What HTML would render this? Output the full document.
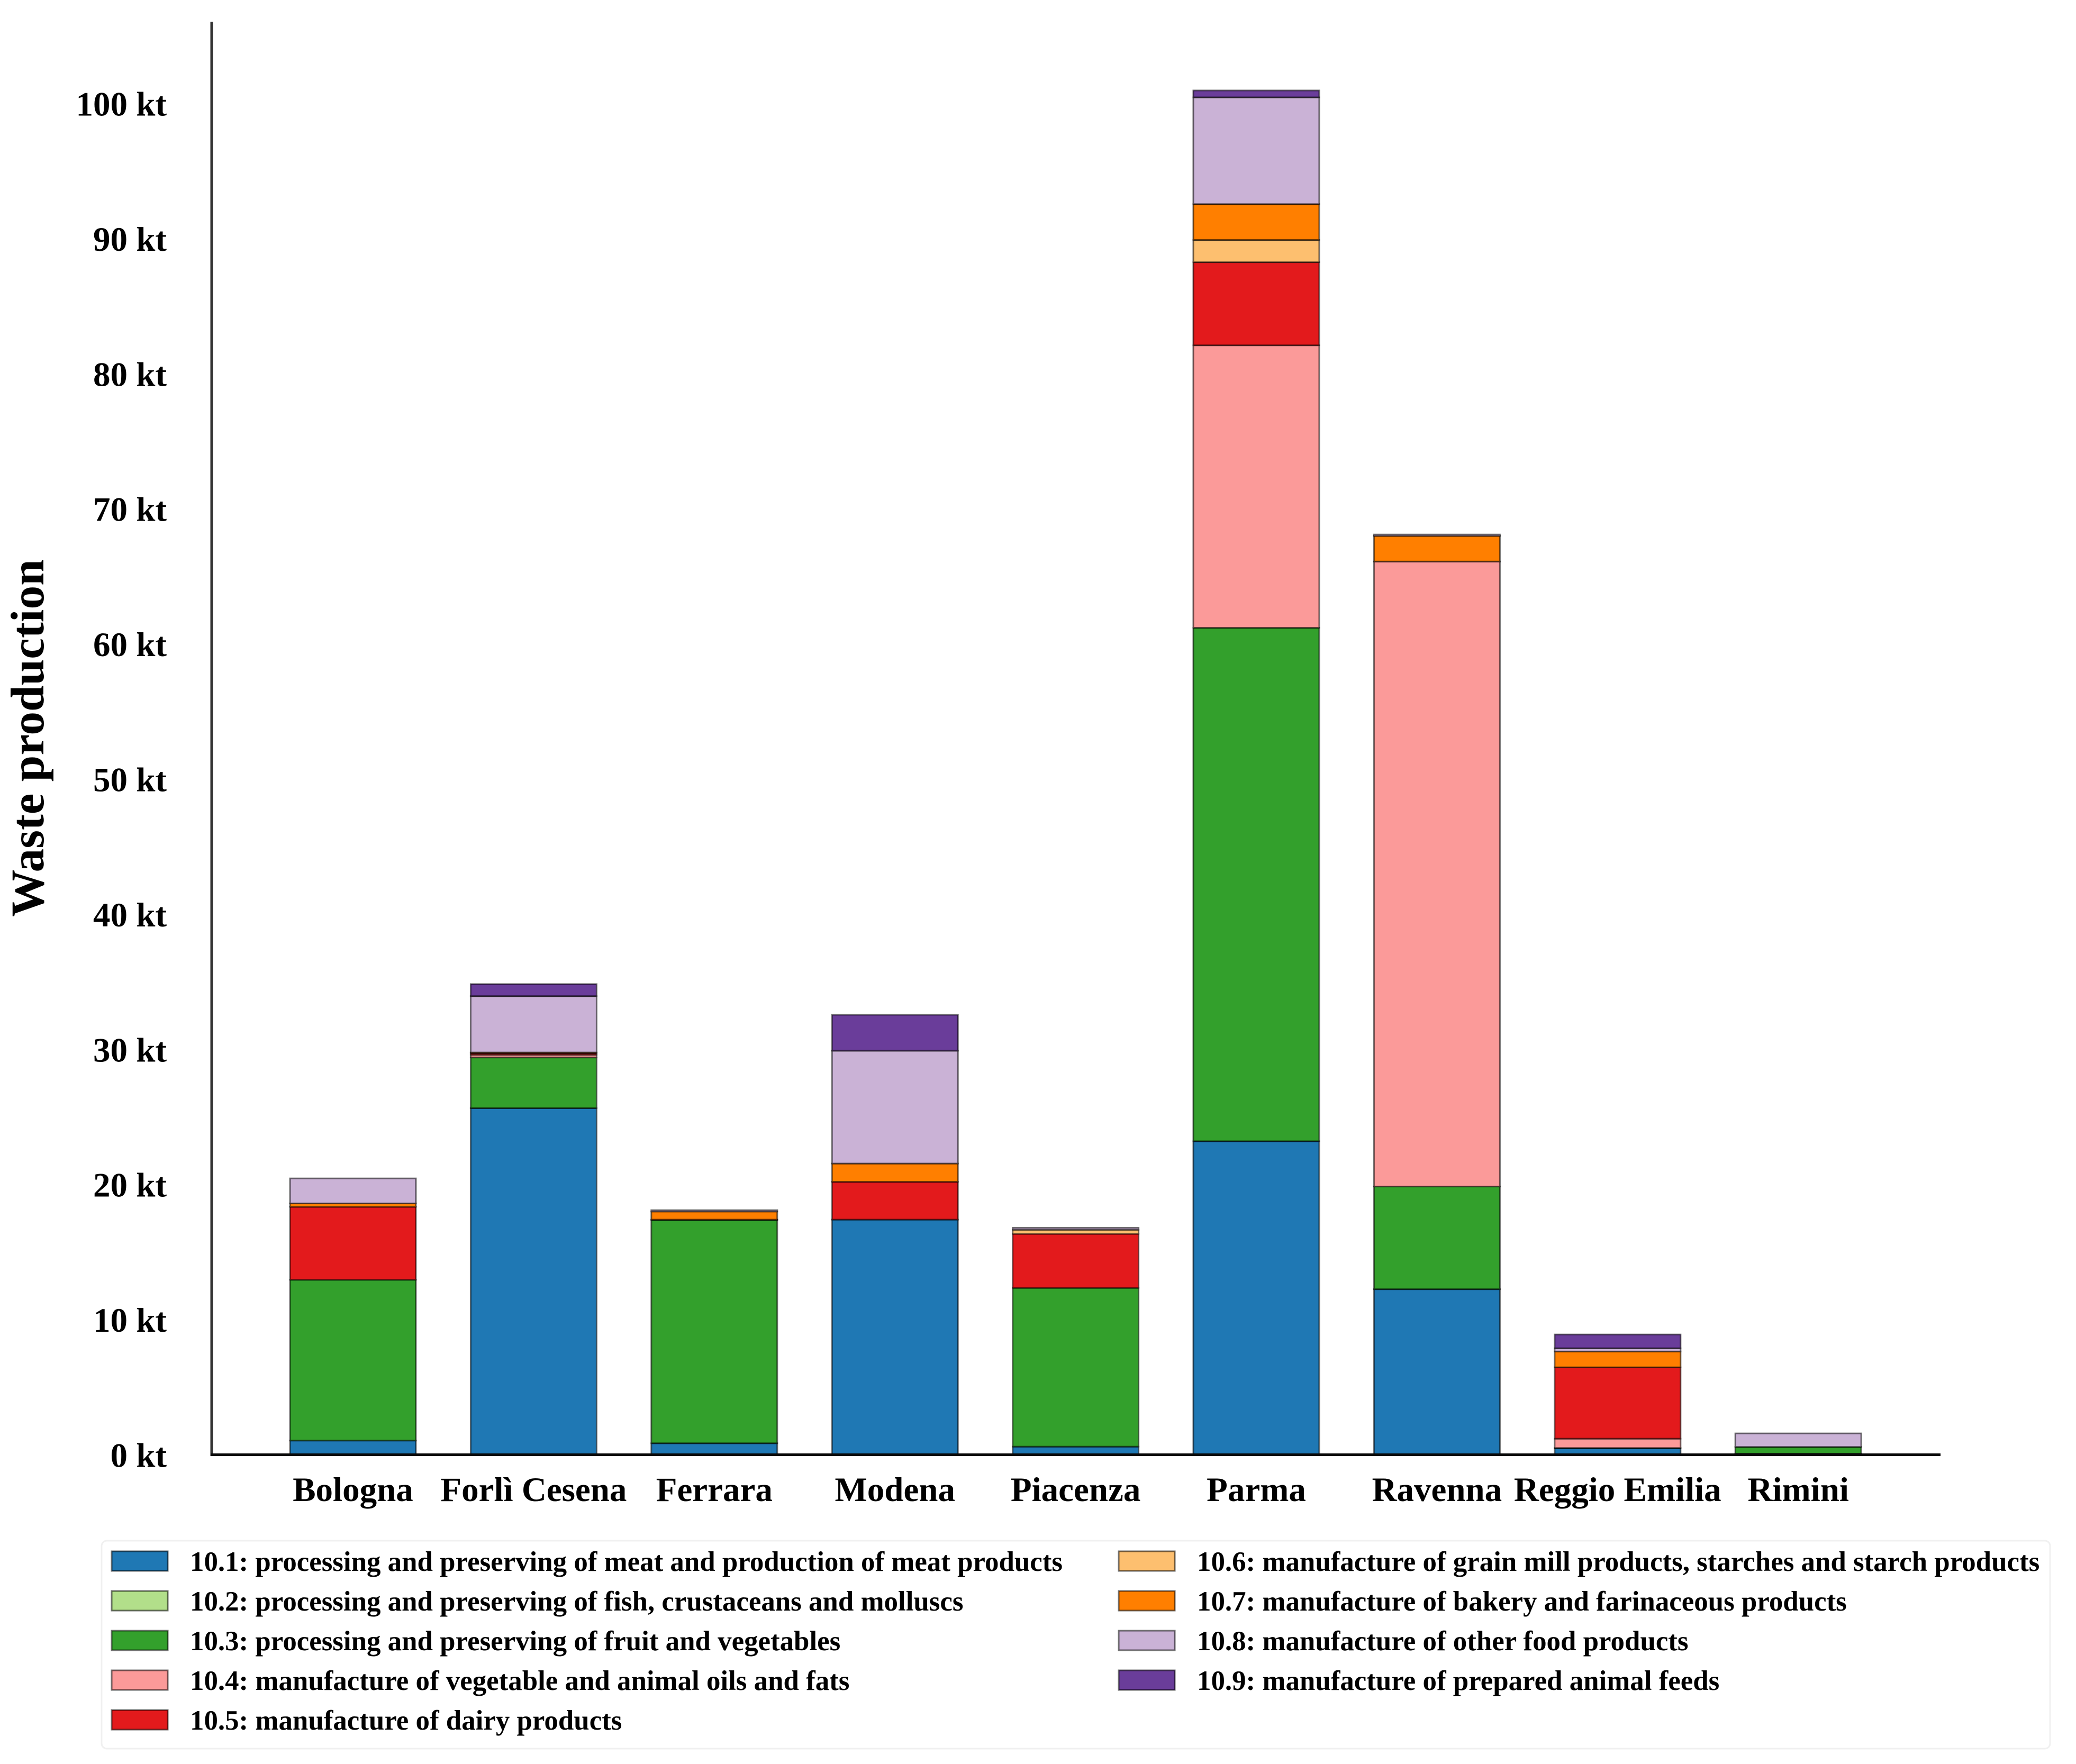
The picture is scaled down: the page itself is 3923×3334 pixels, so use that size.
<!DOCTYPE html>
<html lang="en">
<head>
<meta charset="utf-8">
<title>Waste production by province</title>
<style>
html,body{margin:0;padding:0;background:#fff;width:3923px;height:3334px;overflow:hidden}
svg{display:block;font-family:"Liberation Serif",serif;font-weight:bold}
</style>
</head>
<body>
<svg id="chart" xmlns="http://www.w3.org/2000/svg" width="3923" height="3334" viewBox="0 0 3923 3334">
  <rect x="0" y="0" width="3923" height="3334" fill="#ffffff"/>
  <g id="bars"></g>
  <line x1="400" y1="41" x2="400" y2="2752" stroke="#333" stroke-width="5"/>
  <line x1="398" y1="2749.5" x2="3667" y2="2749.5" stroke="#0a0a0a" stroke-width="5"/>
  <g id="y-ticks"></g>
  <g id="x-ticks"></g>
  <text transform="translate(82,1395) rotate(-90)" text-anchor="middle" font-size="89.3" fill="#000">Waste production</text>
  <rect x="192" y="2912" width="3682" height="393" rx="10" ry="10" fill="#ffffff" stroke="#f0f0f0" stroke-width="3"/>
  <g id="legend"></g>
</svg>
<script>
const categories = ["Bologna","Forlì Cesena","Ferrara","Modena","Piacenza","Parma","Ravenna","Reggio Emilia","Rimini"];
const seriesCodes = ["10.1","10.2","10.3","10.4","10.5","10.6","10.7","10.8","10.9"];
const seriesLabels = [
  "10.1: processing and preserving of meat and production of meat products",
  "10.2: processing and preserving of fish, crustaceans and molluscs",
  "10.3: processing and preserving of fruit and vegetables",
  "10.4: manufacture of vegetable and animal oils and fats",
  "10.5: manufacture of dairy products",
  "10.6: manufacture of grain mill products, starches and starch products",
  "10.7: manufacture of bakery and farinaceous products",
  "10.8: manufacture of other food products",
  "10.9: manufacture of prepared animal feeds"
];
const seriesColors = ["#1f78b4","#b2df8a","#33a02c","#fb9a99","#e31a1c","#fdbf6f","#ff7f00","#cab2d6","#6a3d9a"];
const values101 = [1.05,25.65,0.85,17.4,0.6,23.2,12.25,0.48,0.08];
const values102 = [0,0,0,0,0,0,0,0,0];
const values103 = [11.9,3.75,16.52,0,11.75,38.0,7.6,0.02,0.5];
const values104 = [0,0.2,0,0,0,20.9,46.25,0.69,0];
const values105 = [5.4,0.12,0.03,2.8,4.0,6.15,0,5.28,0];
const values106 = [0,0,0,0,0.3,1.65,0,0,0];
const values107 = [0.25,0.05,0.6,1.35,0,2.65,1.9,1.17,0];
const values108 = [1.85,4.17,0.1,8.35,0.15,7.9,0.1,0.24,1.0];
const values109 = [0,0.89,0,2.66,0,0.51,0,1.02,0];
const yTickValues = [0,10,20,30,40,50,60,70,80,90,100];
const yTickSuffix = " kt";

const allSeries = [values101,values102,values103,values104,values105,values106,values107,values108,values109];
const NS = "http://www.w3.org/2000/svg";
const Y_ZERO = 2749.5, PX_PER_KT = 25.54;
const X_FIRST = 667, X_STEP = 341.4, BAR_WIDTH = 238;
function yScale(v){ return Y_ZERO - v * PX_PER_KT; }
function xScale(i){ return X_FIRST + i * X_STEP; }
function make(tag, attrs){
  const el = document.createElementNS(NS, tag);
  for (const k in attrs) el.setAttribute(k, attrs[k]);
  return el;
}

const barsG = document.getElementById("bars");
categories.forEach(function(cat, c){
  let base = 0;
  allSeries.forEach(function(vals, s){
    const v = vals[c];
    if (!v) return;
    const top = base + v;
    const rect = make("rect", {
      x: xScale(c) - BAR_WIDTH / 2,
      y: yScale(top),
      width: BAR_WIDTH,
      height: yScale(base) - yScale(top),
      fill: seriesColors[s],
      stroke: "#000",
      "stroke-opacity": 0.55,
      "stroke-width": 3
    });
    
    
    barsG.appendChild(rect);
    base = top;
  });
});

const yG = document.getElementById("y-ticks");
yTickValues.forEach(function(t){
  const label = make("text", {x: 315, y: yScale(t) + 23, "text-anchor": "end", "font-size": 65, fill: "#000"});
  
  
  label.textContent = t + yTickSuffix;
  yG.appendChild(label);
});

const xG = document.getElementById("x-ticks");
categories.forEach(function(cat, c){
  const label = make("text", {x: xScale(c), y: 2837, "text-anchor": "middle", "font-size": 65, fill: "#000"});
  
  
  label.textContent = cat;
  xG.appendChild(label);
});

const legendG = document.getElementById("legend");
seriesLabels.forEach(function(text, s){
  const col2 = s >= 5;
  const row = col2 ? s - 5 : s;
  const swatchX = col2 ? 2114 : 211;
  const textX = col2 ? 2262 : 359;
  const rowY = 2932 + row * 75;
  const swatch = make("rect", {x: swatchX, y: rowY, width: 106, height: 37, fill: seriesColors[s], stroke: "#000", "stroke-opacity": 0.55, "stroke-width": 3});
  
  
  legendG.appendChild(swatch);
  const label = make("text", {x: textX, y: rowY + 37, "font-size": 52.9, fill: "#000"});
  
  
  label.textContent = text;
  legendG.appendChild(label);
});
</script>
</body>
</html>
